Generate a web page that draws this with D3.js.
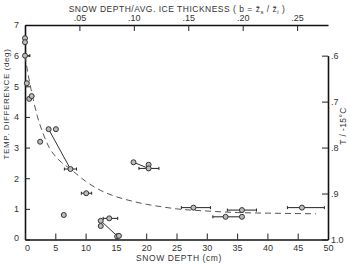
<!DOCTYPE html>
<html><head><meta charset="utf-8">
<script src="https://cdn.jsdelivr.net/npm/d3@7"></script>
<style>
body{margin:0;background:#fff;}
svg text{font-family:"Liberation Sans",Arial,sans-serif;fill:#333;}
</style></head>
<body><svg id="c" width="350" height="265"></svg>
<script>
// ---- data ----
const snowDepth = [0, 0, 0, 0.3, 0.7, 1.1, 2.5, 3.9, 5.1, 7.5, 10.1, 6.4, 12.5, 12.5, 13.9, 15.2, 15.5, 17.9, 20.4, 20.4, 27.8, 35.8, 33.1, 35.8, 45.7];
const tempDiff  = [6.57, 6.44, 6.0, 5.1, 4.59, 4.68, 3.19, 3.6, 3.6, 2.3, 1.51, 0.8, 0.61, 0.44, 0.69, 0.1, 0.12, 2.52, 2.44, 2.32, 1.04, 0.96, 0.74, 0.74, 1.04];
const errY  = [6.0, 2.3, 1.51, 0.69, 2.32, 1.04, 0.96, 0.74, 1.04];
const errLo = [0, 6.5, 9.3, 12.9, 18.8, 25.8, 33.4, 31.0, 43.3];
const errHi = [0.8, 8.5, 11.0, 15.3, 22.1, 30.6, 38.2, 35.8, 49.4];
const linkX1 = [3.9, 12.5, 17.9], linkY1 = [3.6, 0.61, 2.52];
const linkX2 = [7.5, 15.3, 20.4], linkY2 = [2.3, 0.1, 2.32];
const curveX = [0, 0.5, 1, 2, 3, 4, 5, 6, 7.5, 10, 12.5, 15, 17.5, 20, 22.5, 25, 30, 35, 40, 48];
const curveY = [6.0, 5.4, 4.9, 4.05, 3.45, 3.0, 2.72, 2.52, 2.3, 1.9, 1.6, 1.4, 1.26, 1.15, 1.07, 1.0, 0.93, 0.88, 0.86, 0.84];
const xTicks = [0,5,10,15,20,25,30,35,40,45,50];
const yTicks = [0,1,2,3,4,5,6,7];
const bTicks = [0.05,0.10,0.15,0.20,0.25];
const rTicks = [0.6,0.7,0.8,0.9,1.0];

// ---- scales ----
const L=25, R=328, T=25, B=239.5;
const x = d3.scaleLinear().domain([0,50]).range([L,R]);
const y = d3.scaleLinear().domain([0,7]).range([B,T]);
const bx = d3.scaleLinear().domain([0,0.2784]).range([L,R]);
const yr = d3.scaleLinear().domain([1.0,0.6]).range([y(0),y(6)]);

const svg = d3.select("#c");

// axes
const gL = svg.append("g").attr("transform",`translate(${L},0)`)
  .call(d3.axisLeft(y).tickValues(yTicks).tickFormat(d3.format("d")).tickSizeInner(-5).tickSizeOuter(0).tickPadding(6));
const gB = svg.append("g").attr("transform",`translate(0,${B})`)
  .call(d3.axisBottom(x).tickValues(xTicks).tickFormat(d3.format("d")).tickSizeInner(-6).tickSizeOuter(0).tickPadding(5));
const gT = svg.append("g").attr("transform",`translate(0,${T})`)
  .call(d3.axisTop(bx).tickValues(bTicks).tickSizeInner(-6).tickSizeOuter(0).tickPadding(4)
  .tickFormat(d=>d3.format(".2f")(d).slice(1)));
const gR = svg.append("g").attr("transform",`translate(${R},0)`)
  .call(d3.axisRight(yr).tickValues(rTicks).tickSizeInner(-6).tickSizeOuter(0).tickPadding(3)
  .tickFormat(d=>d===1?"1.0":d3.format(".1f")(d).slice(1)));
[gL,gB,gT,gR].forEach(g=>{
  g.select(".domain").attr("stroke","#111").attr("stroke-width",1.6);
  g.selectAll(".tick line").attr("stroke","#222").attr("stroke-width",1);
  g.selectAll(".tick text").attr("font-size",9).attr("fill","#333").attr("font-family","Liberation Sans, Arial, sans-serif");
});
gB.select(".tick:first-of-type text").attr("dx",2);
gL.select(".tick:first-of-type text").attr("dy","0.1em");

// dashed fitted curve
svg.append("path")
  .datum(curveX.map((v,i)=>[v,curveY[i]]))
  .attr("d", d3.line().x(d=>x(d[0])).y(d=>y(d[1])).curve(d3.curveMonotoneX))
  .attr("fill","none").attr("stroke","#555").attr("stroke-width",1)
  .attr("stroke-dasharray","6,4");

// solid connecting lines
svg.append("g").selectAll("line").data(linkX1).join("line")
  .attr("x1",(d,i)=>x(linkX1[i])).attr("y1",(d,i)=>y(linkY1[i]))
  .attr("x2",(d,i)=>x(linkX2[i])).attr("y2",(d,i)=>y(linkY2[i]))
  .attr("stroke","#333").attr("stroke-width",1);

// error bars
const eg = svg.append("g").attr("stroke","#222").attr("stroke-width",1);
errY.forEach((v,i)=>{
  eg.append("line").attr("x1",x(errLo[i])).attr("x2",x(errHi[i])).attr("y1",y(v)).attr("y2",y(v));
  eg.append("line").attr("x1",x(errLo[i])).attr("x2",x(errLo[i])).attr("y1",y(v)-1.5).attr("y2",y(v)+1.5);
  eg.append("line").attr("x1",x(errHi[i])).attr("x2",x(errHi[i])).attr("y1",y(v)-1.5).attr("y2",y(v)+1.5);
});

// points
svg.append("g").selectAll("circle").data(snowDepth).join("circle")
  .attr("cx",(d,i)=>x(snowDepth[i])).attr("cy",(d,i)=>y(tempDiff[i]))
  .attr("r",2.5).attr("fill","#bbb").attr("stroke","#333").attr("stroke-width",1);

// titles
const topTitle = svg.append("text").attr("x",177).attr("y",12).attr("text-anchor","middle")
  .attr("font-size",8.5).attr("letter-spacing",0.5);
topTitle.append("tspan").text("SNOW DEPTH/AVG. ICE THICKNESS  ( b = z\u0304");
topTitle.append("tspan").attr("font-size",6).attr("dy",2).text("s");
topTitle.append("tspan").attr("dy",-2).text(" / z\u0304");
topTitle.append("tspan").attr("font-size",6).attr("dy",2).text("i");
topTitle.append("tspan").attr("dy",-2).text(" )");

svg.append("text").attr("x",179).attr("y",261).attr("text-anchor","middle")
  .attr("font-size",8.5).attr("letter-spacing",0.6).text("SNOW DEPTH  (cm)");

svg.append("text").attr("transform","translate(9,104) rotate(-90)").attr("text-anchor","middle")
  .attr("font-size",8).attr("letter-spacing",0.6).text("TEMP. DIFFERENCE  (deg)");

svg.append("text").attr("transform","translate(346,126) rotate(-90)").attr("text-anchor","middle")
  .attr("font-size",8.5).attr("letter-spacing",0.4).text("T / -15\u00B0C");
</script></body></html>
